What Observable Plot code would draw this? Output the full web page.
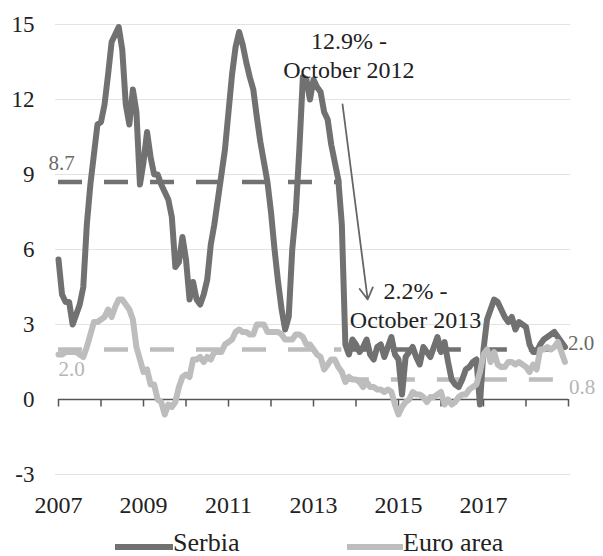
<!DOCTYPE html>
<html>
<head>
<meta charset="utf-8">
<script src="https://cdn.jsdelivr.net/npm/d3@7"></script>
<script src="https://cdn.jsdelivr.net/npm/@observablehq/plot@0.6"></script>
<style>
  html, body { margin: 0; padding: 0; background: #fff; }
  #wrap { width: 603px; font-family: "Liberation Serif", "Times New Roman", serif; }
  #legend { position: relative; width: 603px; height: 26px; }
  #legend .sw { position: absolute; height: 6px; }
  #legend .lb { position: absolute; font-size: 26px; line-height: 26px; color: #222; white-space: nowrap; }
</style>
</head>
<body>
<div id="wrap"></div>
<script>
// ---- data (monthly, Jan 2007 – Dec 2018, y-o-y %) ----
const startYear = 2007;
const serbia = [
  5.6, 4.2, 3.9, 3.9, 3.0, 3.4, 3.8, 4.5, 7.0, 8.6, 9.8, 11.0,
  11.1, 11.8, 13.0, 14.3, 14.6, 14.9, 14.0, 11.8, 11.0, 12.4, 11.5, 8.6,
  9.5, 10.7, 9.7, 9.0, 9.0, 8.6, 8.3, 8.0, 7.3, 5.3, 5.5, 6.5,
  5.6, 4.0, 4.7, 4.0, 3.8, 4.2, 4.8, 6.2, 7.0, 8.0, 9.0, 10.0,
  11.5, 13.0, 14.1, 14.7, 14.2, 13.5, 12.9, 12.4, 11.3, 10.3, 9.5, 8.7,
  7.5, 6.0, 4.7, 3.6, 2.8, 3.3, 6.0, 7.5, 10.0, 12.9, 12.8, 12.0,
  12.8, 12.5, 12.3, 11.5, 11.2, 10.2, 9.5, 8.8, 7.0, 2.2, 1.8, 2.4,
  2.2, 1.9, 2.1, 2.4, 1.8, 1.6, 2.1, 2.2, 1.7, 2.1, 2.5, 1.8,
  1.6, 0.2, 1.7, 1.9, 2.1, 1.7, 1.4, 2.1, 1.9, 1.7, 2.1, 2.5,
  1.9, 2.3, 1.5, 0.8, 0.6, 0.5, 0.8, 1.2, 1.3, 1.5, 1.6, -0.2,
  2.0, 3.2, 3.6, 4.0, 3.9, 3.6, 3.3, 3.1, 3.3, 2.8, 3.1, 3.0,
  2.9, 2.2, 1.9, 1.9, 2.2, 2.4, 2.5, 2.6, 2.7, 2.5, 2.3, 2.1
];
const euroArea = [
  1.8, 1.8, 1.9, 1.9, 1.9, 1.9, 1.8, 1.7, 2.1, 2.6, 3.1, 3.1,
  3.2, 3.3, 3.6, 3.3, 3.7, 4.0, 4.0, 3.8, 3.6, 3.2, 2.1, 1.6,
  1.1, 1.2, 0.6, 0.6, 0.0, -0.1, -0.6, -0.2, -0.3, -0.1, 0.5, 0.9,
  1.0, 0.9, 1.6, 1.6, 1.7, 1.5, 1.7, 1.6, 1.9, 1.9, 1.9, 2.2,
  2.3, 2.4, 2.7, 2.8, 2.7, 2.7, 2.6, 2.6, 3.0, 3.0, 3.0, 2.7,
  2.7, 2.7, 2.7, 2.6, 2.4, 2.4, 2.4, 2.6, 2.6, 2.5, 2.2, 2.2,
  2.0, 1.8, 1.7, 1.2, 1.4, 1.6, 1.6, 1.3, 1.1, 0.7, 0.9, 0.8,
  0.8, 0.7, 0.5, 0.7, 0.5, 0.5, 0.4, 0.4, 0.3, 0.4, 0.3, -0.2,
  -0.6, -0.3, -0.1, 0.0, 0.3, 0.2, 0.2, 0.1, -0.1, 0.1, 0.1, 0.2,
  0.3, -0.2, 0.0, -0.2, -0.1, 0.1, 0.2, 0.2, 0.4, 0.5, 0.6, 1.1,
  1.8, 2.0, 1.5, 1.9, 1.4, 1.3, 1.3, 1.5, 1.5, 1.4, 1.5, 1.4,
  1.3, 1.1, 1.4, 1.2, 2.0, 2.0, 2.1, 2.0, 2.1, 2.3, 1.9, 1.5
];
const yTicks = [-3, 0, 3, 6, 9, 12, 15];
const xTickYears = [2007, 2009, 2011, 2013, 2015, 2017];
const axisYears = [2007, 2008, 2009, 2010, 2011, 2012, 2013, 2014, 2015, 2016, 2017, 2018, 2019];
// period averages
const averageSeries = ["Serbia", "Euro area", "Serbia", "Euro area"];
const averageFrom = [0, 0, 81, 81];
const averageTo = [80, 80, 143, 143];
const averageValues = [8.7, 2.0, 2.0, 0.8];
const averageLabels = ["8.7", "2.0", "2.0", "0.8"];
// annotations
const noteTexts = ["12.9% -\nOctober 2012", "2.2% -\nOctober 2013"];
const noteMonths = [82, 100.8];
const noteValues = [13.8, 3.8];
const arrowFrom = [80.2, 11.8];
const arrowTo = [87.3, 4.0];

// ---- build tables ----
const t = (m) => startYear + m / 12;
const serbiaRows = serbia.map((v, i) => ({x: t(i), y: v}));
const euroRows = euroArea.map((v, i) => ({x: t(i), y: v}));
const colors = {"Serbia": "#717171", "Euro area": "#bdbdbd"};
const averages = averageSeries.map((s, i) => ({
  series: s, x1: t(averageFrom[i]), x2: t(averageTo[i]), y: averageValues[i], label: averageLabels[i]
}));
const avgLabelPos = [
  {x: t(averageFrom[0]), dx: -10, dy: -19, anchor: "start"},
  {x: t(averageFrom[1]), dx: 0, dy: 20, anchor: "start"},
  {x: t(averageTo[2]), dx: 3, dy: -6, anchor: "start"},
  {x: t(averageTo[3]), dx: 4, dy: 8, anchor: "start"}
];
const avgLabelRows = averages.map((a, i) => ({...a, ...avgLabelPos[i]}));
const notes = noteTexts.map((s, i) => ({x: t(noteMonths[i]), y: noteValues[i], text: s}));
const arrows = [{x1: t(arrowFrom[0]), y1: arrowFrom[1], x2: t(arrowTo[0]), y2: arrowTo[1]}];

const font = '"Liberation Serif", "Times New Roman", serif';

const chart = Plot.plot({
  width: 603,
  height: 530,
  marginLeft: 58,
  marginRight: 35,
  marginTop: 24,
  marginBottom: 56,
  style: {fontFamily: font, background: "#fff", overflow: "visible"},
  x: {domain: [2007, 2019], axis: null},
  y: {domain: [-3, 15], axis: null},
  marks: [
    Plot.ruleY(yTicks.filter(v => v !== 0), {stroke: "#e3e3e3", strokeWidth: 1.2, insetLeft: -3, insetRight: -2}),
    Plot.axisY({ticks: yTicks, tickSize: 0, tickPadding: 24, fontSize: 23, fill: "#222", label: null, fontFamily: font,
      tickFormat: d => (d < 0 ? "-" + Math.abs(d) : String(d))}),
    Plot.axisX({ticks: xTickYears, tickSize: 0, tickPadding: 21, fontSize: 24, fill: "#222", label: null, tickFormat: d => String(d), fontFamily: font}),
    Plot.ruleY([0], {stroke: "#555", strokeWidth: 1.5}),
    Plot.ruleX(axisYears, {x: d => d, y1: 0, y2: -0.3, stroke: "#555", strokeWidth: 1.5}),
    Plot.ruleY(averages, {x1: "x1", x2: "x2", y: "y", stroke: d => colors[d.series], strokeWidth: 4.5, strokeDasharray: "24,22"}),
    Plot.line(serbiaRows, {x: "x", y: "y", stroke: colors["Serbia"], strokeWidth: 6}),
    Plot.line(euroRows, {x: "x", y: "y", stroke: colors["Euro area"], strokeWidth: 6}),
    ...avgLabelRows.map(d => Plot.text([d], {x: "x", y: "y", text: "label", dx: d.dx, dy: d.dy, textAnchor: d.anchor,
      fill: d.series === "Serbia" ? "#6a6a6a" : "#b5b5b5", fontSize: 21, fontFamily: font})),
    Plot.arrow(arrows, {x1: "x1", y1: "y1", x2: "x2", y2: "y2", stroke: "#666", strokeWidth: 1.8, headLength: 11}),
    Plot.text(notes, {x: "x", y: "y", text: "text", fontSize: 24, lineHeight: 1.17, fill: "#222", fontFamily: font})
  ]
});

const wrap = document.getElementById("wrap");
wrap.appendChild(chart);

const legend = document.createElement("div");
legend.id = "legend";
const items = [
  {name: "Serbia", sw: 115, swW: 58, lb: 173},
  {name: "Euro area", sw: 347, swW: 56, lb: 403}
];
for (const it of items) {
  const sw = document.createElement("div");
  sw.className = "sw";
  sw.style.left = it.sw + "px";
  sw.style.width = it.swW + "px";
  sw.style.top = "14px";
  sw.style.background = colors[it.name];
  legend.appendChild(sw);
  const lb = document.createElement("div");
  lb.className = "lb";
  lb.style.left = it.lb + "px";
  lb.style.top = "0px";
  lb.textContent = it.name;
  legend.appendChild(lb);
}
wrap.appendChild(legend);
</script>
</body>
</html>
